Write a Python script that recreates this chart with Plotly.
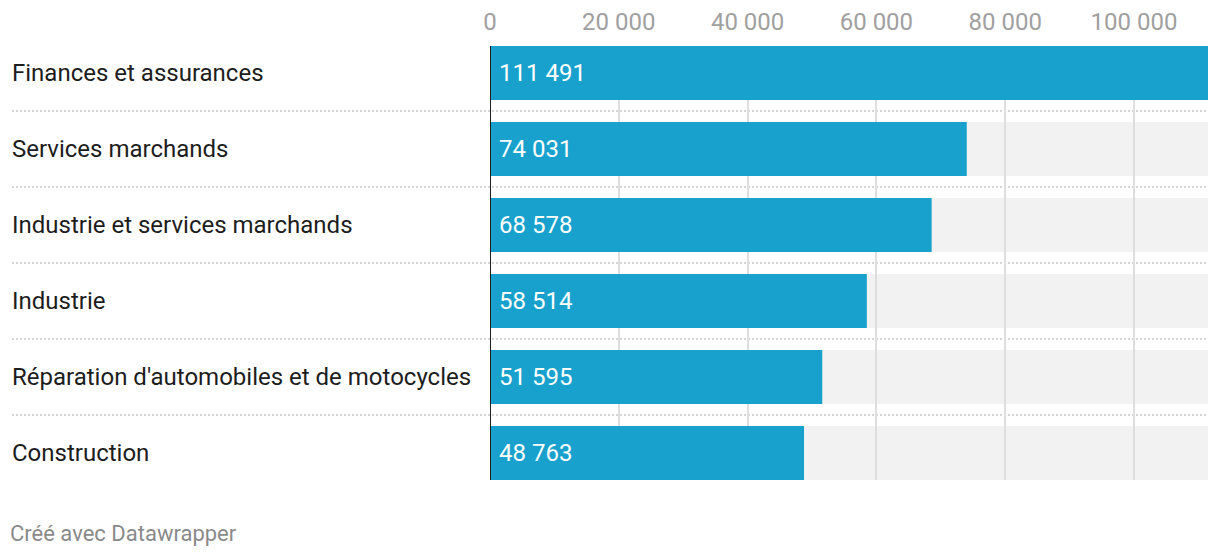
import plotly.graph_objects as go

categories = [
    "Finances et assurances",
    "Services marchands",
    "Industrie et services marchands",
    "Industrie",
    "Réparation d'automobiles et de motocycles",
    "Construction",
]
values = [111491, 74031, 68578, 58514, 51595, 48763]
tick_values = [0, 20000, 40000, 60000, 80000, 100000]
tick_labels = ["0", "20 000", "40 000", "60 000", "80 000", "100 000"]
footer = "Créé avec Datawrapper"

W, H = 1220, 556
ML, MR, MT, MB = 490, 12, 46, 76
PW = W - ML - MR
BLUE = "#18a1cd"
BAR_W = 54 / 76
xmax = max(values)
sep_left_paper = (12 - ML) / PW
label_left_paper = (10 - ML) / PW

def fmt(v):
    return f"{v:,}".replace(",", " ")

fig = go.Figure()
fig.add_trace(go.Bar(
    y=categories, x=values, orientation="h",
    marker=dict(color=BLUE, line=dict(width=0)),
    width=BAR_W, hoverinfo="skip",
))

shapes = []
# grey background bars
for i, c in enumerate(categories):
    shapes.append(dict(type="rect", xref="x", yref="y", x0=0, x1=xmax,
                       y0=i - BAR_W / 2, y1=i + BAR_W / 2,
                       fillcolor="#f2f2f2", line=dict(width=0), layer="below"))
# dotted row separators
for i in range(len(categories) - 1):
    shapes.append(dict(type="line", xref="paper", yref="y",
                       x0=sep_left_paper, x1=1, y0=i + 0.5, y1=i + 0.5,
                       line=dict(color="#d6d6d6", width=2, dash="2px,2px"),
                       layer="below"))
# zero line
shapes.append(dict(type="line", xref="x", yref="paper", x0=0, x1=0, y0=0, y1=1,
                   line=dict(color="#1d1d1d", width=2), layer="above"))

annotations = []
for c, v in zip(categories, values):
    annotations.append(dict(x=label_left_paper, xref="paper", y=c, yref="y",
                            text=c, showarrow=False, xanchor="left",
                            font=dict(family="Roboto", size=24, color="#1d1d1d")))
    annotations.append(dict(x=0, xref="x", y=c, yref="y", text=fmt(v),
                            showarrow=False, xanchor="left", xshift=7,
                            font=dict(family="Roboto", size=24, color="#ffffff")))
annotations.append(dict(xref="paper", yref="paper",
                        x=(8 - ML) / PW,
                        y=-(533 - (H - MB)) / (H - MT - MB),
                        text=footer, showarrow=False,
                        xanchor="left", yanchor="middle",
                        font=dict(family="Roboto", size=22, color="#8a8a8a")))

fig.update_layout(
    width=W, height=H,
    margin=dict(l=ML, r=MR, t=MT, b=MB, pad=0, autoexpand=False),
    paper_bgcolor="white", plot_bgcolor="rgba(0,0,0,0)",
    showlegend=False,
    shapes=shapes, annotations=annotations,
    separators=", ",
    font=dict(family="Roboto"),
)
fig.update_xaxes(
    range=[0, xmax], side="top", tickvals=tick_values, ticktext=tick_labels,
    showgrid=True, gridcolor="#dedede", gridwidth=1.5, zeroline=False,
    showline=False, ticks="", ticklabelstandoff=10, automargin=False,
    tickfont=dict(family="Roboto", size=24, color="#a0a0a0"),
    fixedrange=True,
)
fig.update_yaxes(
    categoryorder="array", categoryarray=categories,
    range=[len(categories) - 1 + 27 / 76, -27 / 76],
    showticklabels=False, showgrid=False, zeroline=False, showline=False,
    ticks="", fixedrange=True, automargin=False,
)

fig.write_html("out.html", config={"displayModeBar": False})
